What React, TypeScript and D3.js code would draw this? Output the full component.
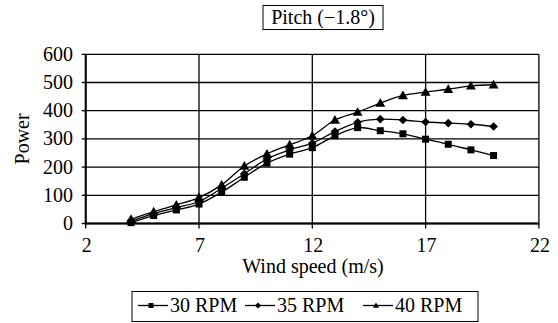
import React from "react";
import * as d3 from "d3";

const windSpeed = [4, 5, 6, 7, 8, 9, 10, 11, 12, 13, 14, 15, 16, 17, 18, 19, 20];
const rpm30 = [3, 28, 48, 69, 111, 164, 214, 246, 269, 311, 340, 329, 318, 299, 281, 261, 241];
const rpm35 = [8, 35, 56, 78, 125, 176, 229, 261, 285, 326, 359, 370, 367, 360, 356, 352, 344];
const rpm40 = [15, 42, 66, 92, 137, 204, 247, 279, 311, 367, 395, 427, 454, 466, 476, 488, 492];
const xTicks = [2, 7, 12, 17, 22];
const yTicks = [0, 100, 200, 300, 400, 500, 600];
const seriesNames = ["30 RPM", "35 RPM", "40 RPM"];
const markers = ["square", "diamond", "triangle"];

const W = 558;
const H = 323;
const FONT = '"Liberation Serif"';

function Marker({ kind, x, y, s }: { kind: string; x: number; y: number; s: number }) {
  if (kind === "square") {
    return <rect x={x - s / 2} y={y - s / 2} width={s} height={s} fill="#000" />;
  }
  if (kind === "diamond") {
    const r = s * 0.62;
    return <path d={`M${x},${y - r}L${x + r},${y}L${x},${y + r}L${x - r},${y}Z`} fill="#000" />;
  }
  const r = s * 0.62;
  return (
    <path
      d={`M${x},${y - r}L${x + r},${y + r * 0.75}L${x - r},${y + r * 0.75}Z`}
      fill="#000"
    />
  );
}

export default function App() {
  const left = 85.7;
  const right = 538.9;
  const top = 54.3;
  const bottom = 223.5;
  const x = d3.scaleLinear().domain([2, 22]).range([left, right]);
  const y = d3.scaleLinear().domain([0, 600]).range([bottom, top]);
  const series = [rpm30, rpm35, rpm40];
  const line = d3
    .line<number>()
    .x((_, i) => x(windSpeed[i]))
    .y((d) => y(d))
    .curve(d3.curveCatmullRom.alpha(0.5));

  const legendX = [138, 245, 363];
  const ts = { fontFamily: FONT, fontSize: 20 } as React.CSSProperties;

  return (
    <svg
      width={W}
      height={H}
      style={{ position: "absolute", left: 0, top: 0, background: "#fff", fontFamily: FONT }}
    >
      <rect x={0} y={0} width={W} height={H} fill="#fff" />
      {/* title */}
      <rect x={263} y={5.5} width={120} height={24} fill="#fff" stroke="#000" strokeWidth={1} />
      <text x={323} y={24} style={ts} textAnchor="middle" fill="#000">
        Pitch (−1.8°)
      </text>
      {/* gridlines */}
      {yTicks.map((t) => (
        <line key={"h" + t} x1={left} x2={right} y1={y(t)} y2={y(t)} stroke="#000" strokeWidth={1.3} />
      ))}
      {xTicks.map((t) => (
        <line key={"v" + t} x1={x(t)} x2={x(t)} y1={top} y2={bottom} stroke="#000" strokeWidth={1.3} />
      ))}
      {/* axes */}
      <line x1={left} x2={left} y1={top} y2={bottom + 1} stroke="#000" strokeWidth={2} />
      <line x1={left - 1} x2={right} y1={bottom} y2={bottom} stroke="#000" strokeWidth={2} />
      {yTicks.map((t) => (
        <line key={"yt" + t} x1={left - 4} x2={left} y1={y(t)} y2={y(t)} stroke="#000" strokeWidth={1.3} />
      ))}
      {xTicks.map((t) => (
        <line key={"xt" + t} x1={x(t)} x2={x(t)} y1={bottom} y2={bottom + 5} stroke="#000" strokeWidth={1.3} />
      ))}
      {yTicks.map((t) => (
        <text key={"yl" + t} x={73} y={y(t) + 6.5} style={ts} textAnchor="end" fill="#000">
          {t}
        </text>
      ))}
      {xTicks.map((t) => (
        <text key={"xl" + t} x={x(t) + 1} y={252} style={ts} textAnchor="middle" fill="#000">
          {t}
        </text>
      ))}
      <text x={313} y={273} style={ts} textAnchor="middle" fill="#000">
        Wind speed (m/s)
      </text>
      <text
        transform={`translate(29,${(top + bottom) / 2}) rotate(-90)`}
        style={ts}
        textAnchor="middle"
        fill="#000"
      >
        Power
      </text>
      {/* series */}
      {series.map((s, si) => (
        <g key={"s" + si}>
          <path d={line(s) || ""} fill="none" stroke="#000" strokeWidth={1.3} />
          {s.map((v, i) => (
            <Marker key={i} kind={markers[si]} x={x(windSpeed[i])} y={y(v)} s={si === 2 ? 8 : 7} />
          ))}
        </g>
      ))}
      {/* legend */}
      <rect x={132} y={291.5} width={346} height={30} fill="#fff" stroke="#000" strokeWidth={1} />
      {seriesNames.map((n, i) => (
        <g key={"lg" + i}>
          <line x1={legendX[i]} x2={legendX[i] + 30} y1={305.5} y2={305.5} stroke="#000" strokeWidth={1.3} />
          <Marker kind={markers[i]} x={legendX[i] + 13} y={305.5} s={5} />
          <text x={legendX[i] + 32} y={311.5} style={ts} fill="#000">
            {n}
          </text>
        </g>
      ))}
    </svg>
  );
}
